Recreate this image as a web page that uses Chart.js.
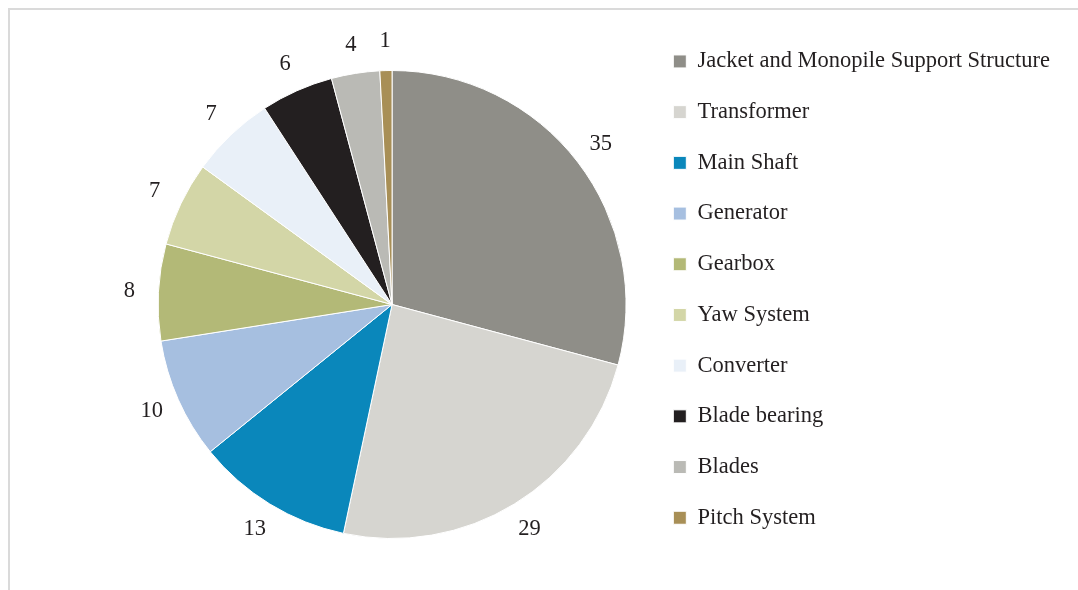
<!DOCTYPE html>
<html>
<head>
<meta charset="utf-8">
<script src="https://cdn.jsdelivr.net/npm/chart.js@4"></script>
<style>
    html, body { margin: 0; padding: 0; background: #fff; }
    #wrap { position: relative; width: 1078px; height: 590px; }
    #frame { position: absolute; left: 8px; top: 8px; right: 0; bottom: 0;
             border-top: 2px solid #dadada; border-left: 2px solid #dadada; }
    canvas { position: absolute; left: 0; top: 0; }
</style>
</head>
<body>
<div id="wrap">
    <div id="frame"></div>
    <canvas id="failureChart" width="1078" height="590"></canvas>
</div>
<script>
// Failures by component
const components = [
    'Jacket and Monopile Support Structure',
    'Transformer',
    'Main Shaft',
    'Generator',
    'Gearbox',
    'Yaw System',
    'Converter',
    'Blade bearing',
    'Blades',
    'Pitch System'
];
const failureCounts = [35, 29, 13, 10, 8, 7, 7, 6, 4, 1];
const sliceColors = [
    '#8f8e88', '#d6d5d0', '#0a87bb', '#a6bfe0', '#b3b977',
    '#d3d6a7', '#e9f0f8', '#231f20', '#babab5', '#a88f56'
];

const FONT = '"Liberation Serif", "Times New Roman", serif';
const FONT_SIZE = 22.5;

// value labels just outside each slice
const outsideLabels = {
    id: 'outsideLabels',
    afterDatasetsDraw(chart) {
        const ctx = chart.ctx;
        const meta = chart.getDatasetMeta(0);
        ctx.save();
        ctx.font = FONT_SIZE + 'px ' + FONT;
        ctx.fillStyle = '#231f20';
        ctx.textAlign = 'center';
        ctx.textBaseline = 'middle';
        meta.data.forEach((arc, i) => {
            const p = arc.getProps(['x', 'y', 'startAngle', 'endAngle', 'outerRadius'], true);
            const mid = (p.startAngle + p.endAngle) / 2;
            const r = p.outerRadius + 29;
            ctx.fillText(String(failureCounts[i]), p.x + Math.cos(mid) * r, p.y + Math.sin(mid) * r);
        });
        ctx.restore();
    }
};

const ctx = document.getElementById('failureChart').getContext('2d');
new Chart(ctx, {
    type: 'pie',
    data: {
        labels: components,
        datasets: [{
            data: failureCounts,
            backgroundColor: sliceColors,
            borderColor: '#ffffff',
            borderWidth: 1,
            radius: 234
        }]
    },
    options: {
        responsive: false,
        animation: false,
        layout: {
            padding: { left: 139, right: 18, top: 22, bottom: 3 }
        },
        plugins: {
            legend: {
                position: 'right',
                align: 'start',
                labels: {
                    boxWidth: 13,
                    boxHeight: 13,
                    padding: 28.2,
                    color: '#231f20',
                    font: { family: FONT, size: FONT_SIZE }
                }
            },
            tooltip: { enabled: false }
        }
    },
    plugins: [outsideLabels]
});
</script>
</body>
</html>
